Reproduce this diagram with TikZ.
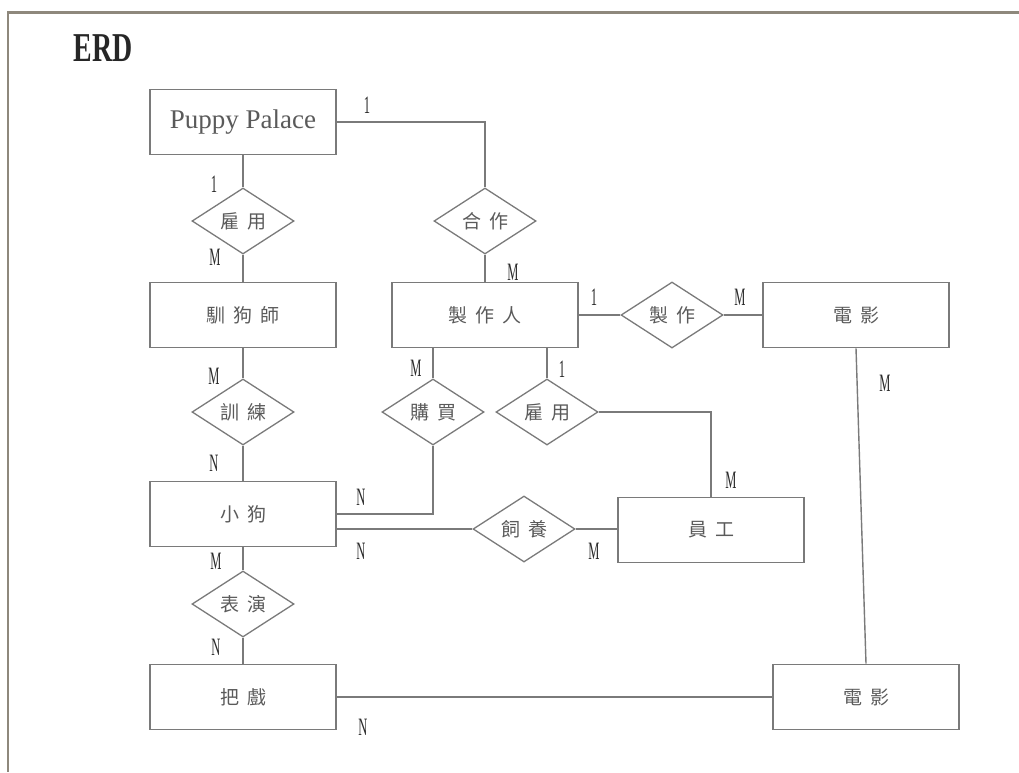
\documentclass[tikz,border=0pt]{standalone}
\usepackage{fontspec}
\setmainfont{Liberation Serif}
\newfontfamily\cjk{Noto Sans CJK TC}
\usetikzlibrary{shapes.geometric}
\definecolor{linec}{HTML}{7A7A7A}
\definecolor{framec}{HTML}{8E887C}
\definecolor{textc}{HTML}{5A5A5A}
\definecolor{cardc}{HTML}{2A2A2A}
\newcommand\cgap{\hspace{8pt}}
\begin{document}
\begin{tikzpicture}[x=1pt,y=-1pt,
  entity/.style={draw=linec, line width=1.6pt, minimum width=186pt, minimum height=65pt,
    inner sep=0pt, font=\cjk\fontsize{19}{19}\selectfont, text=textc},
  rel/.style={diamond, draw=linec, line width=1.3pt, minimum width=102pt, minimum height=66pt,
    inner sep=0pt, font=\cjk\fontsize{19}{19}\selectfont, text=textc},
  conn/.style={draw=linec, line width=1.4pt},
  card/.style={inner sep=0pt, text=cardc, font=\fontsize{25}{25}\selectfont},
]
\useasboundingbox (0,0) rectangle (1019,772);
% frame
\draw[framec, line width=3pt] (7,12) -- (1019,12);
\draw[framec, line width=2pt] (8,12) -- (8,772);
\node[inner sep=0pt, font=\bfseries\fontsize{41}{41}\selectfont, text=black!85] (title) at (103,48) {\scalebox{0.68}[1]{ERD}};

% entities
\node[entity, font=\fontsize{27}{27}\selectfont] (pp) at (243,122) {Puppy Palace};
\node[entity] (trainer) at (243,315) {馴\cgap 狗\cgap 師};
\node[entity] (producer) at (485,315) {製\cgap 作\cgap 人};
\node[entity] (movie1) at (856,315) {電\cgap 影};
\node[entity] (puppy) at (243,514) {小\cgap 狗};
\node[entity] (staff) at (711,530) {員\cgap 工};
\node[entity] (trick) at (243,697) {把\cgap 戲};
\node[entity] (movie2) at (866,697) {電\cgap 影};

% relationships
\node[rel] (hire1) at (243,221) {雇\cgap 用};
\node[rel] (coop) at (485,221) {合\cgap 作};
\node[rel] (make) at (672,315) {製\cgap 作};
\node[rel] (train) at (243,412) {訓\cgap 練};
\node[rel] (buy) at (433,412) {購\cgap 買};
\node[rel] (hire2) at (547,412) {雇\cgap 用};
\node[rel] (feed) at (524,529) {飼\cgap 養};
\node[rel] (perform) at (243,604) {表\cgap 演};

% connectors
\draw[conn] (pp.east) -| (coop.north);
\draw[conn] (pp.south) -- (hire1.north);
\draw[conn] (hire1.south) -- (trainer.north);
\draw[conn] (coop.south) -- (producer.north);
\draw[conn] (producer.east) -- (make.west);
\draw[conn] (make.east) -- (movie1.west);
\draw[conn] (movie1.south) -- (movie2.north);
\draw[conn] (trainer.south) -- (train.north);
\draw[conn] (train.south) -- (puppy.north);
\draw[conn] (buy.north) -- (buy.north |- producer.south);
\draw[conn] (hire2.north) -- (hire2.north |- producer.south);
\draw[conn] (buy.south) |- (puppy.east);
\draw[conn] (puppy.east |- feed.west) -- (feed.west);
\draw[conn] (feed.east) -- (staff.west |- feed.east);
\draw[conn] (hire2.east) -| (staff.north);
\draw[conn] (puppy.south) -- (perform.north);
\draw[conn] (perform.south) -- (trick.north);
\draw[conn] (trick.east) -- (movie2.west);

% cardinalities
\node[card] (c1) at (367,105) {\scalebox{0.5}[1]{1}};
\node[card] (c2) at (214,184) {\scalebox{0.5}[1]{1}};
\node[card] (c3) at (215,257) {\scalebox{0.5}[1]{M}};
\node[card] (c4) at (513,272) {\scalebox{0.5}[1]{M}};
\node[card] (c5) at (594,297) {\scalebox{0.5}[1]{1}};
\node[card] (c6) at (740,297) {\scalebox{0.5}[1]{M}};
\node[card] (c7) at (214,376) {\scalebox{0.5}[1]{M}};
\node[card] (c8) at (416,368) {\scalebox{0.5}[1]{M}};
\node[card] (c9) at (562,369) {\scalebox{0.5}[1]{1}};
\node[card] (c10) at (885,383) {\scalebox{0.5}[1]{M}};
\node[card] (c11) at (214,463) {\scalebox{0.5}[1]{N}};
\node[card] (c12) at (361,497) {\scalebox{0.5}[1]{N}};
\node[card] (c13) at (731,480) {\scalebox{0.5}[1]{M}};
\node[card] (c14) at (361,551) {\scalebox{0.5}[1]{N}};
\node[card] (c15) at (594,551) {\scalebox{0.5}[1]{M}};
\node[card] (c16) at (216,561) {\scalebox{0.5}[1]{M}};
\node[card] (c17) at (216,647) {\scalebox{0.5}[1]{N}};
\node[card] (c18) at (363,727) {\scalebox{0.5}[1]{N}};
\end{tikzpicture}
\end{document}
